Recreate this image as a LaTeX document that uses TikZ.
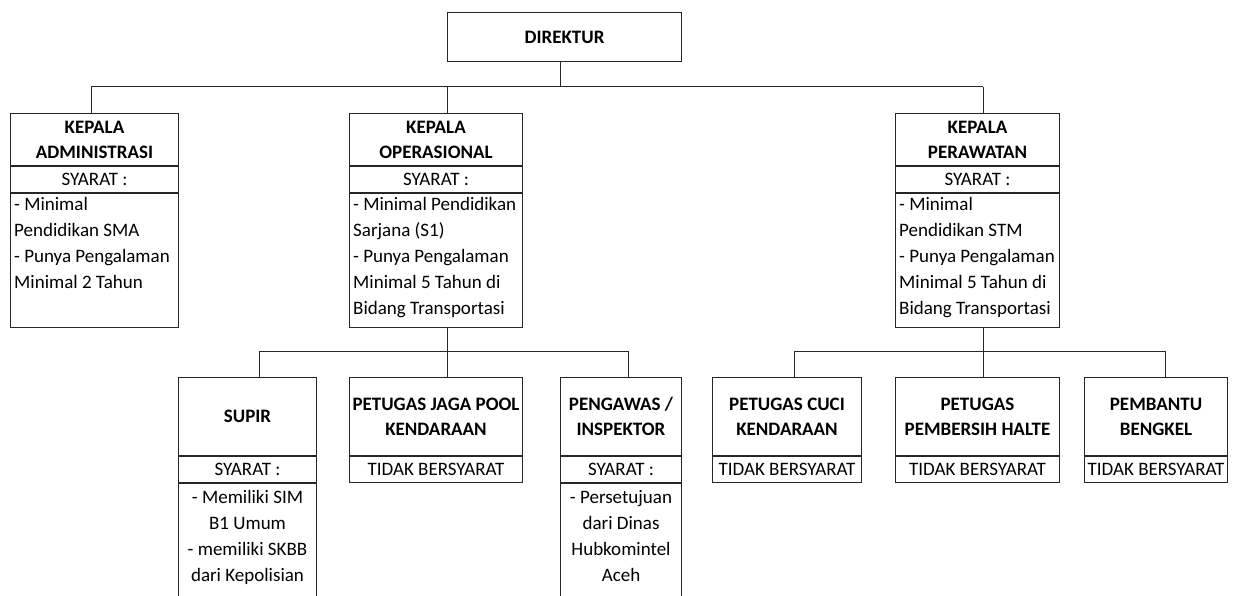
\documentclass[tikz,border=0pt]{standalone}
\usepackage{fontspec}
\setmainfont{Carlito}
\begin{document}
\begin{tikzpicture}[x=1pt,y=-1pt,
  box/.style={draw=black!85, line width=1pt, inner sep=0pt, anchor=north west},
  ttl/.style={font=\fontsize{19}{25}\selectfont\bfseries, align=center},
  txt/.style={font=\fontsize{19}{26}\selectfont},
  bodyl/.style={txt, anchor=north west, inner sep=0pt, align=left},
  bodyc/.style={txt, anchor=north, inner sep=0pt, align=center},
  conn/.style={draw=black!85, line width=1pt}]
\useasboundingbox (0,0) rectangle (1238,596);
\clip (0,0) rectangle (1238,596);
% Direktur
\node[box, ttl, minimum width=234pt, minimum height=49pt] (dir) at (447,12) {DIREKTUR};
% Kepala Administrasi
\node[box, ttl, minimum width=168pt, minimum height=52pt] (adm) at (10,113) {KEPALA\\ADMINISTRASI};
\node[box, txt, minimum width=168pt, minimum height=26pt] (adms) at (adm.south west) {SYARAT :};
\node[box, minimum width=168pt, minimum height=134pt] (admb) at (adms.south west) {};
\node[bodyl] (admt) at ([xshift=4pt]admb.north west) {\rule{0pt}{17.5pt}- Minimal\\Pendidikan SMA\\- Punya Pengalaman\\Minimal 2 Tahun};
% Kepala Operasional
\node[box, ttl, minimum width=173pt, minimum height=52pt] (ops) at (349,113) {KEPALA\\OPERASIONAL};
\node[box, txt, minimum width=173pt, minimum height=26pt] (opss) at (ops.south west) {SYARAT :};
\node[box, minimum width=173pt, minimum height=134pt] (opsb) at (opss.south west) {};
\node[bodyl] (opst) at ([xshift=4pt]opsb.north west) {\rule{0pt}{17.5pt}- Minimal Pendidikan\\Sarjana (S1)\\- Punya Pengalaman\\Minimal 5 Tahun di\\Bidang Transportasi};
% Kepala Perawatan
\node[box, ttl, minimum width=164pt, minimum height=52pt] (per) at (895,113) {KEPALA\\PERAWATAN};
\node[box, txt, minimum width=164pt, minimum height=26pt] (pers) at (per.south west) {SYARAT :};
\node[box, minimum width=164pt, minimum height=134pt] (perb) at (pers.south west) {};
\node[bodyl] (pert) at ([xshift=4pt]perb.north west) {\rule{0pt}{17.5pt}- Minimal\\Pendidikan STM\\- Punya Pengalaman\\Minimal 5 Tahun di\\Bidang Transportasi};
% Supir
\node[box, ttl, minimum width=138pt, minimum height=78pt] (sup) at (178,377) {SUPIR};
\node[box, txt, minimum width=138pt, minimum height=26pt] (sups) at (sup.south west) {SYARAT :};
\node[box, minimum width=138pt, minimum height=125pt] (supb) at (sups.south west) {};
\node[bodyc] (supt) at (supb.north) {\rule{0pt}{20pt}- Memiliki SIM\\B1 Umum\\- memiliki SKBB\\dari Kepolisian};
% Petugas Jaga Pool
\node[box, ttl, minimum width=173pt, minimum height=78pt] (pool) at (349,377) {PETUGAS JAGA POOL\\KENDARAAN};
\node[box, txt, minimum width=173pt, minimum height=26pt] (pools) at (pool.south west) {TIDAK BERSYARAT};
% Pengawas
\node[box, ttl, minimum width=121pt, minimum height=78pt] (peng) at (560,377) {PENGAWAS /\\INSPEKTOR};
\node[box, txt, minimum width=121pt, minimum height=26pt] (pengs) at (peng.south west) {SYARAT :};
\node[box, minimum width=121pt, minimum height=125pt] (pengb) at (pengs.south west) {};
\node[bodyc] (pengt) at (pengb.north) {\rule{0pt}{20pt}- Persetujuan\\dari Dinas\\Hubkomintel\\Aceh};
% Petugas Cuci
\node[box, ttl, minimum width=149pt, minimum height=78pt] (cuci) at (712,377) {PETUGAS CUCI\\KENDARAAN};
\node[box, txt, minimum width=149pt, minimum height=26pt] (cucis) at (cuci.south west) {TIDAK BERSYARAT};
% Petugas Pembersih Halte
\node[box, ttl, minimum width=164pt, minimum height=78pt] (halte) at (895,377) {PETUGAS\\PEMBERSIH HALTE};
\node[box, txt, minimum width=164pt, minimum height=26pt] (haltes) at (halte.south west) {TIDAK BERSYARAT};
% Pembantu Bengkel
\node[box, ttl, minimum width=143pt, minimum height=78pt] (beng) at (1084,377) {PEMBANTU\\BENGKEL};
\node[box, txt, minimum width=143pt, minimum height=26pt] (bengs) at (beng.south west) {TIDAK BERSYARAT};
% Connectors level 1
\coordinate (b0) at (560,87);
\coordinate (b0l) at (91,87);
\coordinate (b0m) at (447,87);
\coordinate (b0r) at (983,87);
\draw[conn] (b0 |- dir.south) -- (b0);
\draw[conn] (b0l) -- (b0r);
\draw[conn] (b0l) -- (b0l |- adm.north);
\draw[conn] (b0m) -- (b0m |- ops.north);
\draw[conn] (b0r) -- (b0r |- per.north);
% Connectors operasional
\coordinate (b1) at (447,351);
\coordinate (b1l) at (259,351);
\coordinate (b1r) at (628,351);
\draw[conn] (b1 |- opsb.south) -- (b1);
\draw[conn] (b1l) -- (b1r);
\draw[conn] (b1l) -- (b1l |- sup.north);
\draw[conn] (b1) -- (b1 |- pool.north);
\draw[conn] (b1r) -- (b1r |- peng.north);
% Connectors perawatan
\coordinate (b2) at (983,351);
\coordinate (b2l) at (794,351);
\coordinate (b2r) at (1165,351);
\draw[conn] (b2 |- perb.south) -- (b2);
\draw[conn] (b2l) -- (b2r);
\draw[conn] (b2l) -- (b2l |- cuci.north);
\draw[conn] (b2) -- (b2 |- halte.north);
\draw[conn] (b2r) -- (b2r |- beng.north);
\end{tikzpicture}
\end{document}
